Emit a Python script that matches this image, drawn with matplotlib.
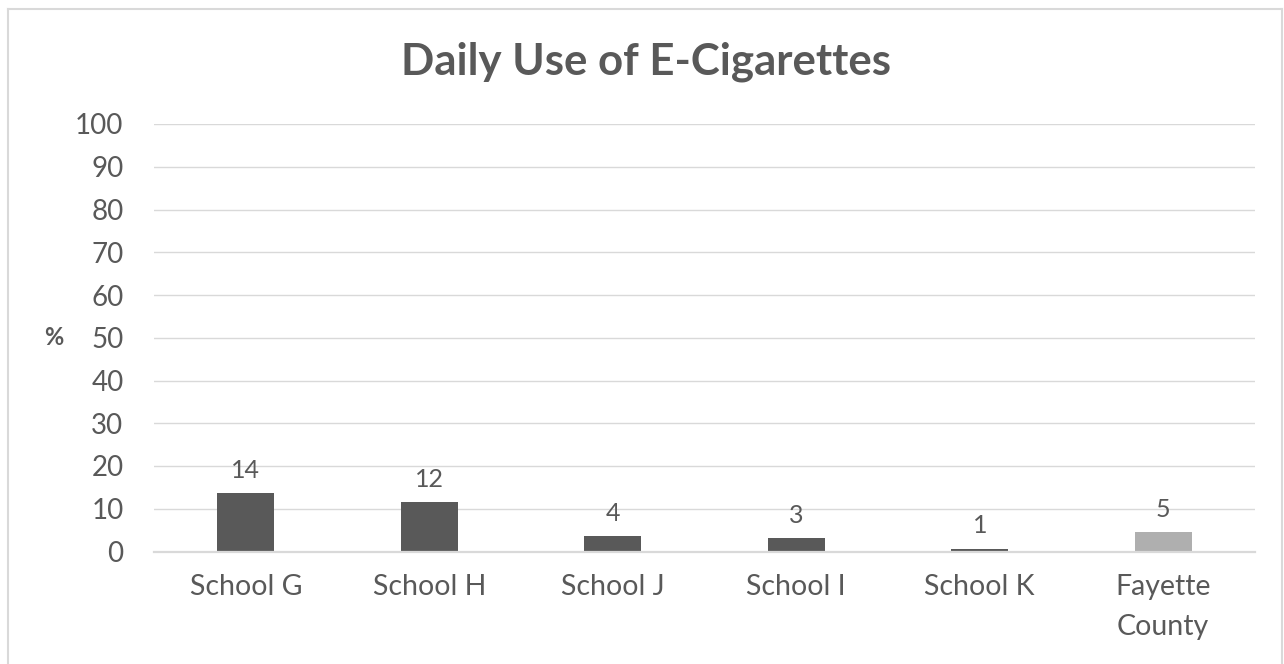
import matplotlib.pyplot as plt
from matplotlib.lines import Line2D

# survey results, percent reporting daily e-cigarette use
categories = ['School G', 'School H', 'School J', 'School I', 'School K', 'Fayette\nCounty']
pct_daily = [13.6, 11.6, 3.6, 3.1, 0.7, 4.6]
bar_colors = ['#595959'] * 5 + ['#afafaf']
yticks = list(range(0, 101, 10))

txt = '#595959'
grid = '#d9d9d9'
plt.rcParams['font.family'] = ['Lato', 'DejaVu Sans']

W, H = 1284, 664
fig = plt.figure(figsize=(W / 100, H / 100), dpi=100)
ax = fig.add_axes([154 / W, (H - 551.5) / H, (1255 - 154) / W, (551.5 - 124) / H])

x = list(range(len(categories)))
ax.bar(x, pct_daily, width=0.31, color=bar_colors, zorder=3)

for xi, v in zip(x, pct_daily):
    ax.annotate(f'{v:.0f}', (xi, v), xytext=(0, 8), textcoords='offset points',
                ha='center', va='bottom', fontsize=18, color=txt)

ax.set_xlim(-0.5, len(categories) - 0.5)
ax.set_ylim(0, 100)
ax.set_yticks(yticks)
ax.set_xticks(x)
ax.set_xticklabels(categories, fontsize=20.5, color=txt, linespacing=1.7)
ax.tick_params(axis='y', labelsize=20, labelcolor=txt, length=0, pad=22)
ax.tick_params(axis='x', length=0, pad=16)
ax.yaxis.grid(True, color=grid, lw=1.0, zorder=0)
ax.set_axisbelow(True)
for s in ['top', 'right', 'left']:
    ax.spines[s].set_visible(False)
ax.spines['bottom'].set_color(grid)
ax.spines['bottom'].set_linewidth(1.6)
ax.spines['bottom'].set_zorder(4)

ax.set_ylabel('%', fontsize=17, fontweight='bold', color=txt, rotation=0,
              labelpad=0, va='center')
ax.yaxis.set_label_coords(-100 / (1255 - 154), 0.5)

fig.text(646 / W, 1 - 62 / H, 'Daily Use of E-Cigarettes', ha='center', va='center',
         fontsize=31.5, fontweight='bold', color=txt)

# chart frame
bx0, bx1, by0 = 7.5 / W, 1281.5 / W, 1 - 8.5 / H
fig.add_artist(Line2D([bx0, bx0], [0, by0], color=grid, lw=1.5))
fig.add_artist(Line2D([bx0, bx1], [by0, by0], color=grid, lw=1.5))
fig.add_artist(Line2D([bx1, bx1], [0, by0], color=grid, lw=1.5))

fig.savefig('out.png', dpi=100)
